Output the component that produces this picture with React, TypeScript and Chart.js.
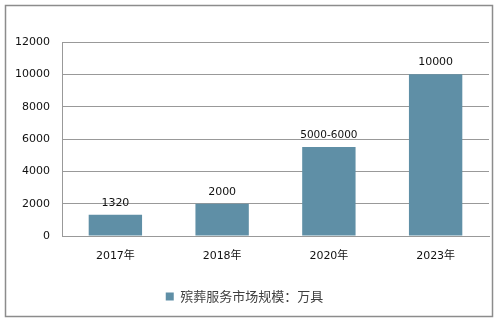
import React, { useEffect, useRef } from "react";
import { Chart, registerables } from "chart.js";

Chart.register(...registerables);

const categories = ["2017年", "2018年", "2020年", "2023年"];
const marketSize = [1320, 2000, 5500, 10000];
const valueLabels = ["1320", "2000", "5000-6000", "10000"];
const seriesName = "殡葬服务市场规模：万具";

const frameAndLabels = {
  id: "frameAndLabels",
  beforeDraw(chart: any) {
    const ctx = chart.ctx;
    ctx.save();
    ctx.fillStyle = "#ffffff";
    ctx.fillRect(0, 0, chart.width, chart.height);
    ctx.strokeStyle = "#8c8c8c";
    ctx.lineWidth = 1.5;
    ctx.strokeRect(5.5, 5.5, 487, 311);
    ctx.restore();
  },
  afterDatasetsDraw(chart: any) {
    const ctx = chart.ctx;
    const meta = chart.getDatasetMeta(0);
    ctx.save();
    ctx.fillStyle = "#111111";
    ctx.textAlign = "center";
    ctx.textBaseline = "middle";
    meta.data.forEach((bar: any, i: number) => {
      const txt = valueLabels[i];
      ctx.font = (txt.length > 6 ? "10.5px" : "11px") + " 'DejaVu Sans', 'Noto Sans CJK SC'";
      ctx.fillText(txt, bar.x, bar.y - 12);
    });
    ctx.restore();
  },
};

export default function App() {
  const ref = useRef<HTMLCanvasElement>(null);
  useEffect(() => {
    if (!ref.current) return;
    const chart = new Chart(ref.current, {
      type: "bar",
      data: {
        labels: categories,
        datasets: [
          {
            label: seriesName,
            data: marketSize,
            backgroundColor: "#5f8fa6",
            borderWidth: 0,
            categoryPercentage: 1,
            barPercentage: 0.5,
          },
        ],
      },
      options: {
        animation: false,
        responsive: false,
        maintainAspectRatio: false,
        layout: { padding: { top: 42, right: 12, bottom: 13, left: 0 } },
        plugins: {
          legend: {
            display: true,
            position: "bottom",
            labels: {
              boxWidth: 8,
              boxHeight: 8,
              padding: 10,
              color: "#404040",
              font: { size: 13, family: "'Noto Sans CJK SC', 'DejaVu Sans'" },
            },
          },
          tooltip: { enabled: false },
        },
        scales: {
          x: {
            grid: { display: false, drawTicks: false },
            border: { display: true, color: "#999999", width: 1 },
            ticks: {
              color: "#111111",
              padding: 14,
              font: { size: 11, family: "'DejaVu Sans', 'Noto Sans CJK SC'" },
            },
            afterFit: (scale: any) => {
              scale.height = 44;
            },
          },
          y: {
            min: 0,
            max: 12000,
            ticks: {
              stepSize: 2000,
              color: "#111111",
              padding: 12,
              font: { size: 11, family: "'DejaVu Sans'" },
              callback: (v: any) => String(v),
            },
            grid: { color: "#999999", lineWidth: 1, drawTicks: false },
            border: { display: true, color: "#999999", width: 1 },
            afterFit: (scale: any) => {
              scale.width = 62;
            },
          },
        },
      },
      plugins: [frameAndLabels],
    });
    return () => chart.destroy();
  }, []);
  return (
    <div style={{ position: "absolute", left: 0, top: 0, width: 501, height: 326 }}>
      <canvas ref={ref} width={501} height={326} style={{ display: "block" }} />
    </div>
  );
}
